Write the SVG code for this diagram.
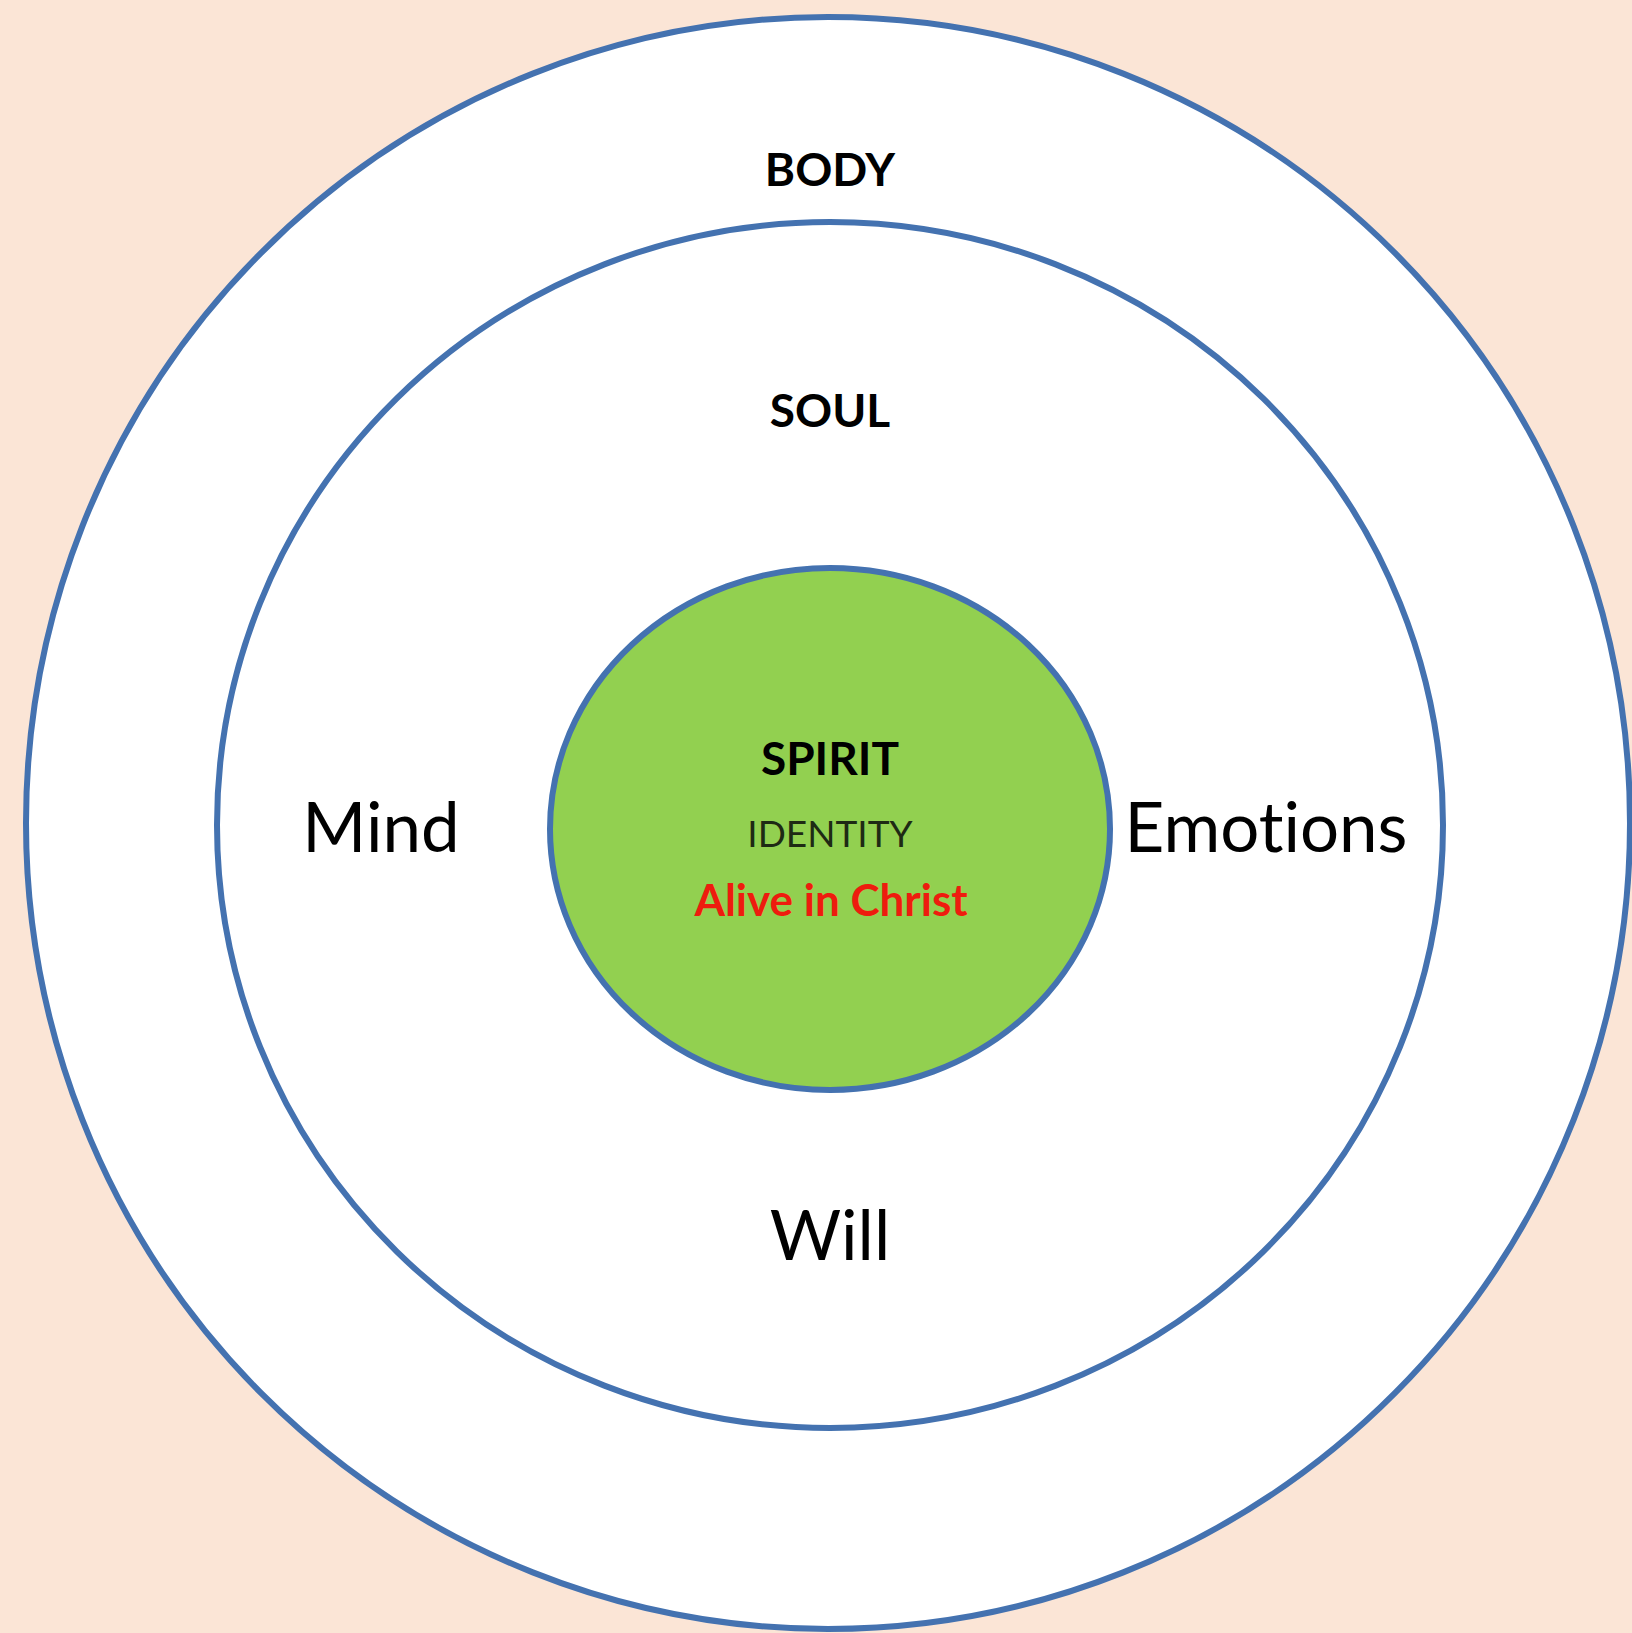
<svg xmlns="http://www.w3.org/2000/svg" width="1632" height="1633" viewBox="0 0 1632 1633">
<style>
.ring{fill:#ffffff;stroke:#4472B0;stroke-width:6}
.core{fill:#92D050;stroke:#4472B0;stroke-width:6}
.t{font-family:Lato,"Open Sans",sans-serif;text-anchor:middle;fill:#000;font-variant-ligatures:none}
.b{font-weight:bold}
.id{fill:#1e2a14}
.red{fill:#EE1C0E}
</style>
<rect width="1632" height="1633" fill="#FBE5D6"/>
<g id="body">
<ellipse class="ring" cx="828" cy="823" rx="802" ry="806"/>
<text class="t b" x="830" y="186" font-size="46">BODY</text>
</g>
<g id="soul">
<ellipse class="ring" cx="830" cy="825" rx="613" ry="603"/>
<text class="t b" x="830" y="427" font-size="46">SOUL</text>
<text class="t" x="381" y="852" font-size="69">Mind</text>
<text class="t" x="1266" y="852" font-size="69">Emotions</text>
<text class="t" x="830" y="1260" font-size="69">Will</text>
</g>
<g id="spirit">
<ellipse class="core" cx="830" cy="829" rx="280" ry="261"/>
<text class="t b" x="830" y="775" font-size="46">SPIRIT</text>
<text class="t id" x="830" y="847" font-size="37">IDENTITY</text>
<text class="t b red" x="831" y="916" font-size="44">Alive in Christ</text>
</g>
<g id="connectors"/>
</svg>
